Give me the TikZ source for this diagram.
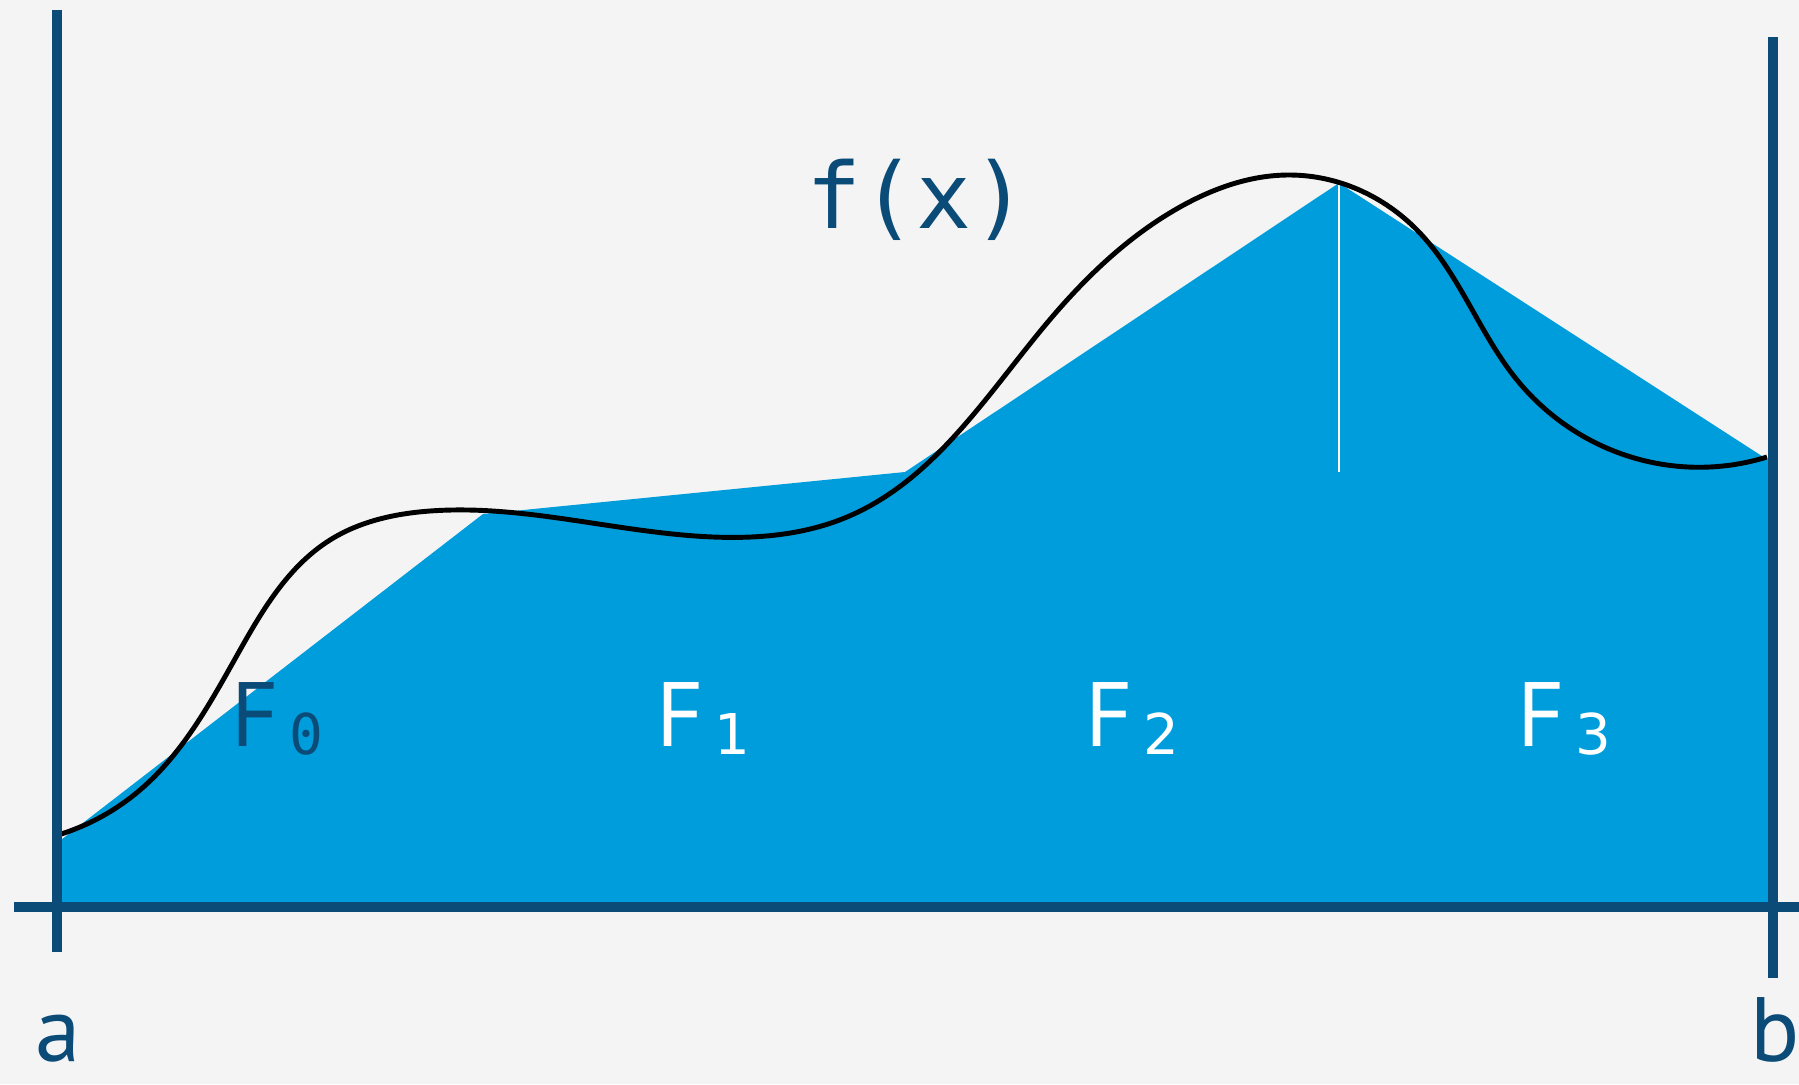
\documentclass[tikz,border=0pt]{standalone}
\usepackage{fontspec}
\setmainfont{PT Sans}
\newfontfamily\monofont{DejaVu Sans Mono}
\newfontfamily\digitfont{DejaVu Sans}
\usetikzlibrary{positioning,hobby}
\definecolor{axisblue}{HTML}{0B4B78}
\definecolor{areablue}{HTML}{009DDD}
\definecolor{paper}{HTML}{F4F4F4}
\tikzset{axis/.style={draw=axisblue,line width=2.9pt},
  lab/.style={inner sep=0pt,font=\fontsize{26}{30}\selectfont}}
\newcommand{\idx}[1]{\kern3pt\raisebox{-2.3pt}{\fontsize{16}{18}\selectfont #1}}

\begin{document}
\begin{tikzpicture}[x=0.1mm,y=-0.1mm]
\fill[paper] (0,0) rectangle (1799,1084);
\useasboundingbox (0,0) rectangle (1799,1084);
% trapezoid area under the chords
\fill[areablue] (57,906) -- (57,843) -- (483,514) -- (905,472) -- (1339,183) -- (1768,460) -- (1768,906) -- cycle;
\draw[white,line width=0.6pt] (1339,183) -- (1339,472);
% f(x)
\draw[line width=1.4pt,use Hobby shortcut] (58,835) .. (140,790) .. (240,650) .. (330,540) .. (430,511) .. (713,537) .. (847,517) .. (1047,323) .. (1180,207) .. (1290,175) .. (1417,230) .. (1517,380) .. (1650,462) .. (1767,457);
% axes
\draw[axis] (14,907) -- (1799,907);
\draw[axis] (57,10) -- (57,952);
\draw[axis] (1773,37) -- (1773,978);
\node[lab,text=axisblue,anchor=base] (fx) at (917,228) {\monofont f(x)};
\node[lab,text=axisblue,anchor=base] (a) at (58,1061) {a};
\node[lab,text=axisblue,anchor=base] (b) at (1775,1061) {b};
\node[lab,text=axisblue,anchor=base west] (F0) at (231,746) {F\idx{\monofont 0}};
\foreach \i/\x in {1/656,2/1085,3/1517}
  \node[lab,text=white,anchor=base west] (F\i) at (\x,746) {F\idx{\digitfont\i}};
\end{tikzpicture}
\end{document}
